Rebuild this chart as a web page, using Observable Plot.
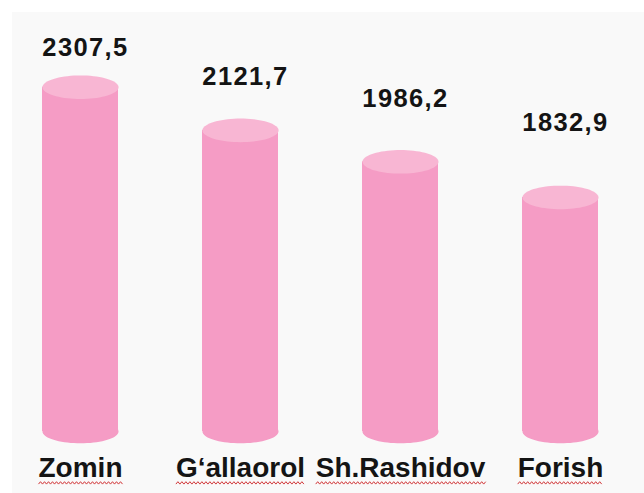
<!DOCTYPE html>
<html>
<head>
<meta charset="utf-8">
<script src="https://cdn.jsdelivr.net/npm/d3@7"></script>
<script src="https://cdn.jsdelivr.net/npm/@observablehq/plot@0.6"></script>
<style>
  html, body { margin: 0; padding: 0; background: #ffffff; }
  #wrap { position: relative; width: 644px; height: 493px; overflow: hidden; }
  #bg { position: absolute; left: 12px; top: 12px; right: 0; bottom: 0; background: #f9f9f9; }
  #chart { position: absolute; left: 0; top: 0; }
  g[aria-label="text"] text { letter-spacing: 1.4px; }
</style>
</head>
<body>
<div id="wrap"><div id="bg"></div><div id="chart"></div></div>
<script>
const names = ["Zomin", "G‘allaorol", "Sh.Rashidov", "Forish"];
const values = [2307.5, 2121.7, 1986.2, 1832.9];
const valueLabels = ["2307,5", "2121,7", "1986,2", "1832,9"];

const data = names.map((name, i) => ({name, value: values[i], label: valueLabels[i]}));

const width = 644, height = 493;
const marginLeft = 0, marginRight = 4, marginTop = 42, marginBottom = 62;
const yMin = 825, yMax = 2500;
const paddingInner = 0.525, paddingOuter = 0.2625;
const bodyColor = "#f59cc5";
const topColor = "#f8b6d3";

const xs = Plot.scale({x: {type: "band", domain: names, range: [marginLeft, width - marginRight], paddingInner, paddingOuter}});
const rx = xs.bandwidth / 2;

// ellipse symbol for the cylinder caps (perspective ratio)
const ellipse = {
  draw(ctx, size) {
    const a = Math.sqrt(size / Math.PI), b = a * 0.31, n = 72;
    for (let i = 0; i <= n; i++) {
      const t = (i / n) * 2 * Math.PI;
      const px = a * Math.cos(t), py = b * Math.sin(t);
      if (i === 0) ctx.moveTo(px, py); else ctx.lineTo(px, py);
    }
    ctx.closePath();
  }
};

// labels sit above the caps in a compressed (perspective) offset
const labelPos = d => 901.3 + 0.6834 * d.value;

const chart = Plot.plot({
  width, height, marginLeft, marginRight, marginTop, marginBottom,
  style: {fontFamily: "'Liberation Sans', Arial, sans-serif", background: "transparent"},
  x: {domain: names, paddingInner, paddingOuter},
  y: {domain: [yMin, yMax], axis: null},
  marks: [
    Plot.dot(data, {x: "name", y: yMin, r: rx, symbol: ellipse, fill: bodyColor}),
    Plot.barY(data, {x: "name", y1: yMin, y2: "value", fill: bodyColor}),
    Plot.dot(data, {x: "name", y: "value", r: rx, symbol: ellipse, fill: topColor}),
    Plot.text(data, {x: "name", y: labelPos, text: "label", dx: 5, fontSize: 25.5, fontWeight: "bold", fill: "#141414", lineAnchor: "middle"}),
    Plot.axisX({tickSize: 0, tickPadding: 26, fontSize: 28, fontWeight: "bold", fill: "#141414", label: null})
  ]
});
document.getElementById("chart").appendChild(chart);

// spell-check style wavy underline under each category label
d3.select(chart).selectAll('g[aria-label="x-axis tick label"] text').each(function () {
  const b = this.getBBox();
  const y0 = b.y + b.height - 0.5;
  let d = "";
  const step = 2;
  for (let x = b.x, k = 0; x <= b.x + b.width; x += step, k++) {
    d += (k === 0 ? "M" : "L") + x.toFixed(1) + "," + (y0 + (k % 2 ? -1.2 : 1.2)).toFixed(1);
  }
  d3.select(this.parentNode).append("path")
    .attr("transform", this.getAttribute("transform"))
    .attr("d", d)
    .attr("fill", "none")
    .attr("stroke", "#d2383a")
    .attr("stroke-width", 1);
});
</script>
</body>
</html>
